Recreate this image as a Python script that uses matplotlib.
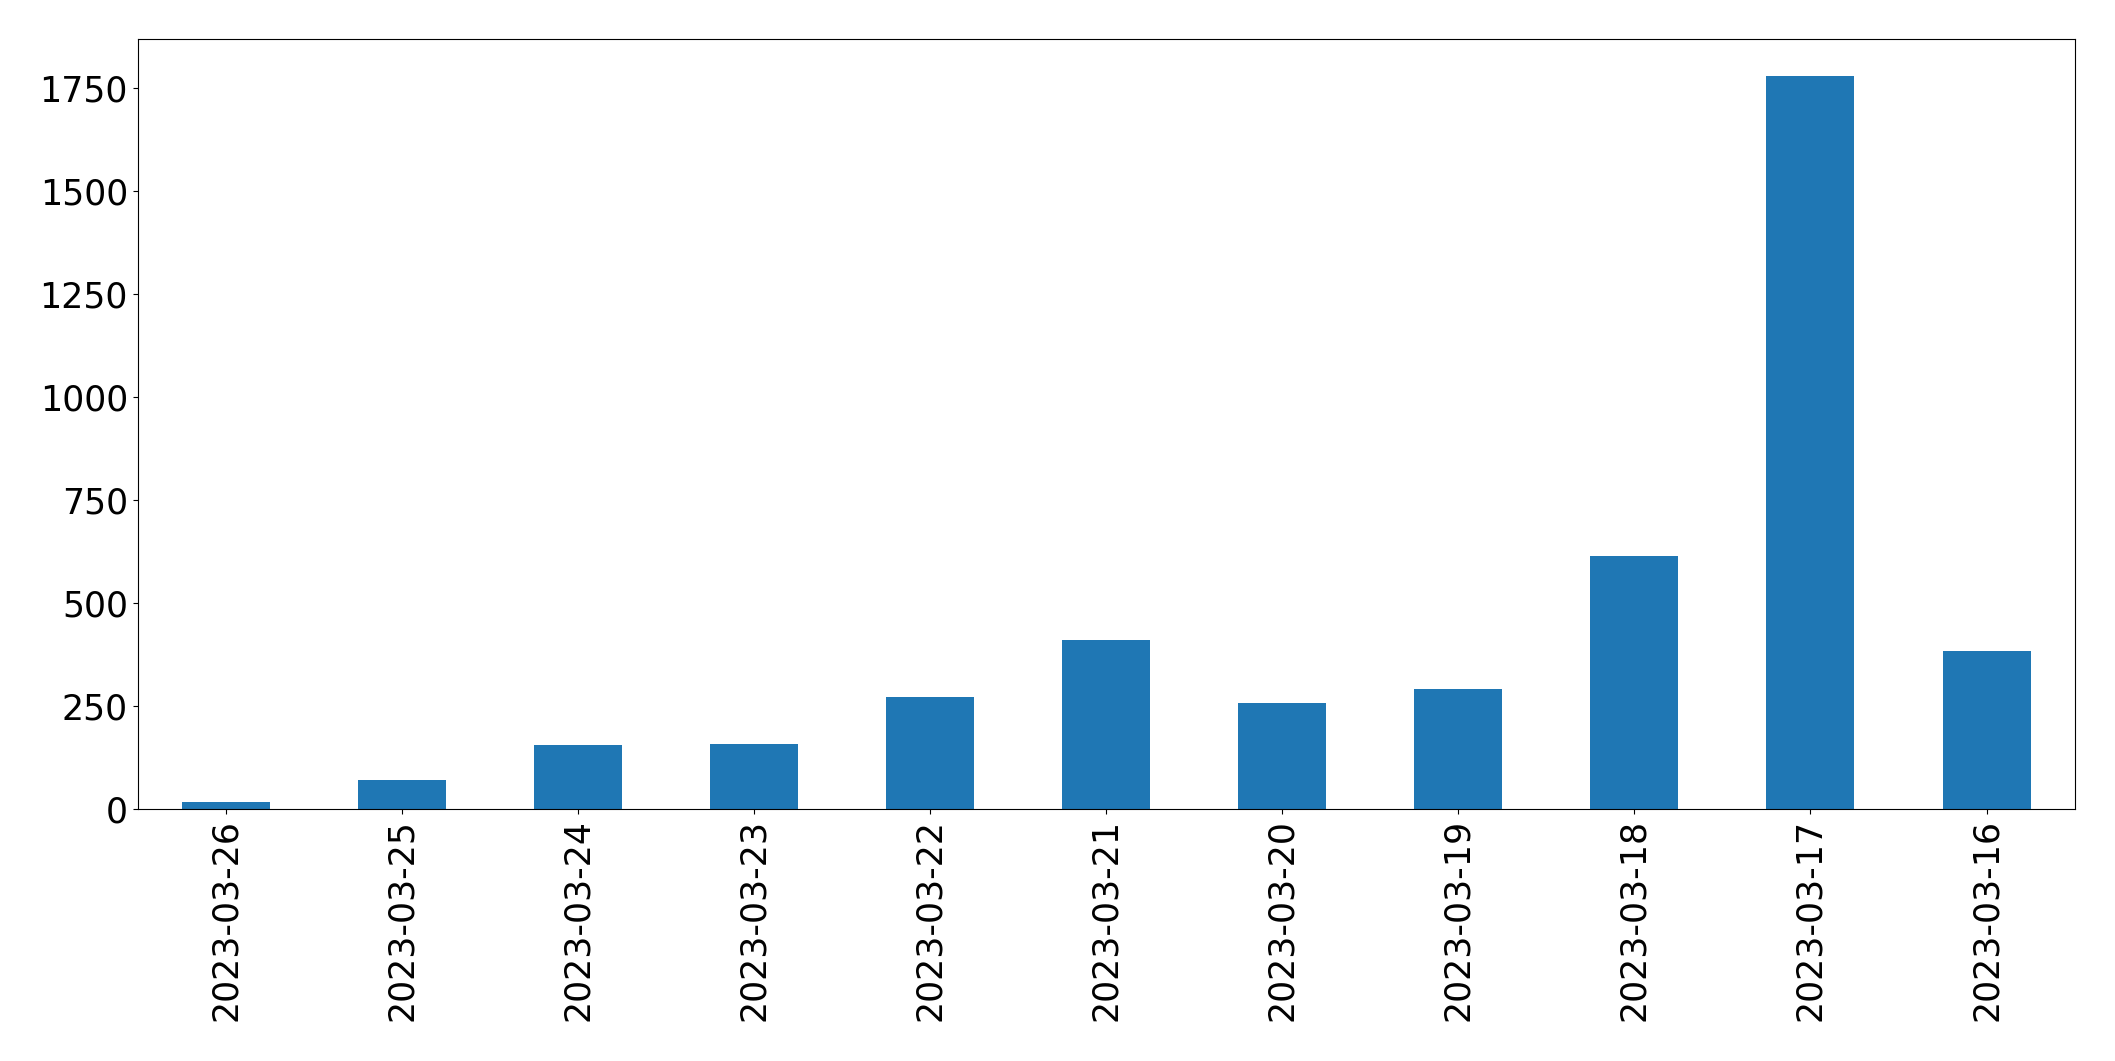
import matplotlib
matplotlib.use("Agg")
import matplotlib.pyplot as plt
import pandas as pd

# daily counts, newest first (as in the reference)
dates = ["2023-03-26", "2023-03-25", "2023-03-24", "2023-03-23", "2023-03-22",
         "2023-03-21", "2023-03-20", "2023-03-19", "2023-03-18", "2023-03-17",
         "2023-03-16"]
counts = [18, 70, 156, 157, 271, 410, 257, 291, 614, 1779, 383]

s = pd.Series(counts, index=dates)

fig = plt.figure(figsize=(21.15, 10.61), dpi=100)
ax = fig.add_axes([0.0651, 0.2375, 0.9158, 0.7257])

s.plot(kind="bar", ax=ax, color="#1f77b4", fontsize=25)
ax.tick_params(axis="x", labelrotation=90)

fig.savefig("out.png", dpi=100)
